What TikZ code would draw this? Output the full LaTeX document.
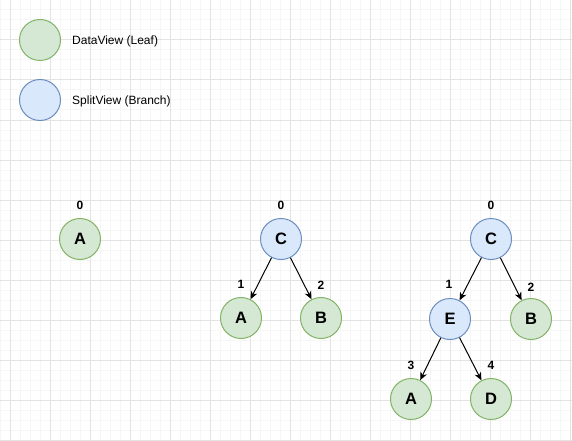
\documentclass[tikz,border=0pt]{standalone}
\usepackage{fontspec}
\setmainfont{Liberation Sans}
\usetikzlibrary{arrows.meta}
\definecolor{leaffill}{HTML}{D5E8D4}
\definecolor{leafline}{HTML}{82B366}
\definecolor{branchfill}{HTML}{DAE8FC}
\definecolor{branchline}{HTML}{6C8EBF}
\definecolor{minorgrid}{HTML}{F6F6F6}
\definecolor{majorgrid}{HTML}{E3E3E3}
\tikzset{
  leaf/.style={circle, draw=leafline, fill=leaffill, line width=1pt, minimum size=41pt, inner sep=0pt, font=\fontsize{16.5}{16.5}\selectfont\bfseries},
  branch/.style={leaf, draw=branchline, fill=branchfill},
  idx/.style={font=\fontsize{12}{12}\selectfont\bfseries, inner sep=0pt},
  legendtext/.style={anchor=west, font=\fontsize{12}{12}\selectfont, inner sep=0pt},
  edge/.style={line width=1pt, -{Stealth[length=8pt,width=7pt,inset=2.5pt]}}
}
\begin{document}
\begin{tikzpicture}[x=1pt, y=-1pt]
  \useasboundingbox (0,0) rectangle (572,441);
  \fill[white] (0,0) rectangle (572,441);

  % Grid
  \foreach \gx in {0,10,...,570} \draw[minorgrid, line width=1pt] (\gx,0) -- (\gx,441);
  \foreach \gy in {0,10,...,440} \draw[minorgrid, line width=1pt] (0,\gy) -- (572,\gy);
  \foreach \gx in {10,50,...,570} \draw[majorgrid, line width=1pt] (\gx,0) -- (\gx,441);
  \foreach \gy in {0,40,...,440} \draw[majorgrid, line width=1pt] (0,\gy) -- (572,\gy);

  % Legend
  \node[leaf] (keyleaf) at (40,40) {};
  \node[legendtext] (keyleaftext) at (72,41) {DataView (Leaf)};
  \node[branch] (keybranch) at (40,100) {};
  \node[legendtext] (keybranchtext) at (72,101) {SplitView (Branch)};

  % Tree 1
  \node[leaf] (a1) at (80,239) {A};
  \node[idx] (a1idx) at (80,205) {0};

  % Tree 2
  \node[branch] (c2) at (281,239) {C};
  \node[leaf] (a2) at (241,318) {A};
  \node[leaf] (b2) at (321,318) {B};
  \node[idx] (c2idx) at (281,205) {0};
  \node[idx] (a2idx) at (241,284) {1};
  \node[idx] (b2idx) at (321,285) {2};
  \draw[edge] (c2) -- (a2);
  \draw[edge] (c2) -- (b2);

  % Tree 3
  \node[branch] (c3) at (491,239) {C};
  \node[branch] (e3) at (450,319) {E};
  \node[leaf] (b3) at (531,319) {B};
  \node[leaf] (a3) at (411,399) {A};
  \node[leaf] (d3) at (491,399) {D};
  \node[idx] (c3idx) at (491,205) {0};
  \node[idx] (e3idx) at (449,284) {1};
  \node[idx] (b3idx) at (531,287) {2};
  \node[idx] (a3idx) at (411,365) {3};
  \node[idx] (d3idx) at (491,365) {4};
  \draw[edge] (c3) -- (e3);
  \draw[edge] (c3) -- (b3);
  \draw[edge] (e3) -- (a3);
  \draw[edge] (e3) -- (d3);
\end{tikzpicture}
\end{document}
